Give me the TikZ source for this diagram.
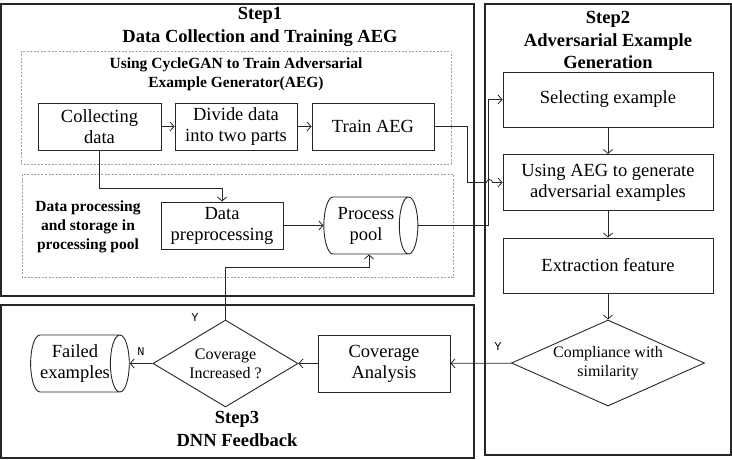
\documentclass[tikz,border=0pt]{standalone}
\usepackage{fontspec}
\setmainfont{Liberation Serif}
\newfontfamily\yesno{Liberation Mono}
\usetikzlibrary{shapes.geometric,arrows.meta}

\definecolor{ink}{HTML}{262626}
\definecolor{dashgray}{HTML}{A0A0A0}

\tikzset{
  frame/.style={draw=ink, line width=1.3pt},
  group/.style={draw=dashgray, line width=0.6pt, dash pattern=on 2pt off 1.5pt},
  title/.style={align=center, font=\bfseries\fontsize{18.5}{22.5}\selectfont},
  subtitle/.style={align=center, font=\bfseries\fontsize{15.5}{19}\selectfont},
  box/.style={draw=ink, line width=0.9pt, minimum width=122pt, minimum height=47pt,
    inner sep=1pt, align=center, font=\fontsize{18.5}{21}\selectfont},
  pool/.style={draw=ink, cylinder, line width=0.9pt, shape aspect=0.5,
    minimum height=94pt, minimum width=57pt, inner sep=0pt, align=center,
    font=\fontsize{18.5}{21}\selectfont},
  choice/.style={draw=ink, diamond, line width=0.9pt, inner sep=0pt, align=center,
    font=\fontsize{16}{19}\selectfont},
  yn/.style={font=\yesno\fontsize{12}{12}\selectfont},
  arr/.style={draw=ink, line width=0.8pt, -{Straight Barb[length=4pt,width=9pt]}}
}

\begin{document}
\begin{tikzpicture}[x=1pt, y=-1pt]
    \useasboundingbox (0,0) rectangle (732,460);

    % step frames
    \draw[frame] (1,4) rectangle (474,296);
    \draw[frame] (485,4) rectangle (731,455);
    \draw[frame] (1,305) rectangle (474,458);
    \draw[group] (21,51) rectangle (451,164);
    \draw[group] (22,174) rectangle (453,277);

    \node[title] (t1) at (260,27) {Step1\\Data Collection and Training AEG};
    \node[title] (t2) at (608,40) {Step2\\Adversarial Example\\Generation};
    \node[title] (t3) at (237,429) {Step3\\DNN Feedback};
    \node[subtitle] (g1) at (236,74) {Using CycleGAN to Train Adversarial\\Example Generator(AEG)};
    \node[subtitle] (g2) at (88,227) {Data processing\\and storage in\\processing pool};

    % step1
    \node[box, minimum width=123pt] (coll) at (99.5,126.5) {Collecting\\data};
    \node[box] (divide) at (236,126.5) {Divide data\\into two parts};
    \node[box] (train) at (373,126.5) {Train AEG};
    \node[box] (prep) at (222,225.5) {Data\\preprocessing};
    \node[pool] (ppool) at (366,225.5) {Process\\pool};

    % step2
    \node[box, minimum width=210pt, minimum height=55pt] (select) at (608,99.5) {Selecting example};
    \node[box, minimum width=210pt, minimum height=56pt] (using) at (608,182.5) {Using AEG to generate\\adversarial examples};
    \node[box, minimum width=210pt, minimum height=55pt] (extract) at (608,265.5) {Extraction feature};
    \node[choice, aspect=2.24, minimum width=193pt, minimum height=86pt] (comply) at (608,363) {Compliance with\\similarity};

    % step3
    \node[box, minimum width=132pt, minimum height=57pt] (cover) at (384,363.5) {Coverage\\Analysis};
    \node[choice, aspect=1.67, minimum width=145pt, minimum height=87pt] (incr) at (225.5,363.5) {Coverage\\Increased ?};
    \node[pool] (failed) at (75,363.5) {Failed\\examples};

    \draw[arr] (coll) -- (divide);
    \draw[arr] (divide) -- (train);
    \draw[arr] (coll.south) -- ++(0,38) -| (prep.north);
    \draw[arr] (prep) -- (ppool);
    \draw[arr] (ppool.east) -| ([xshift=-14pt]select.west) -- (select.west);
    \draw[arr] (train.east) -- ++(33,0) -- ++(0,56) -- ++(19,0)
        arc[start angle=180, end angle=0, radius=3pt] -- (using.west);
    \draw[arr] (select) -- (using);
    \draw[arr] (using) -- (extract);
    \draw[arr] (extract) -- (comply);
    \draw[arr] (comply) -- (cover);
    \draw[arr] (cover) -- (incr);
    \draw[arr] (incr) -- (failed);
    \draw[arr] (incr.north) -- ++(0,-52) -| ([xshift=3pt]ppool.south);

    \node[yn] (ycomply) at (498,347) {Y};
    \node[yn] (yincr) at (195,318) {Y};
    \node[yn] (nincr) at (141,352) {N};
\end{tikzpicture}
\end{document}
